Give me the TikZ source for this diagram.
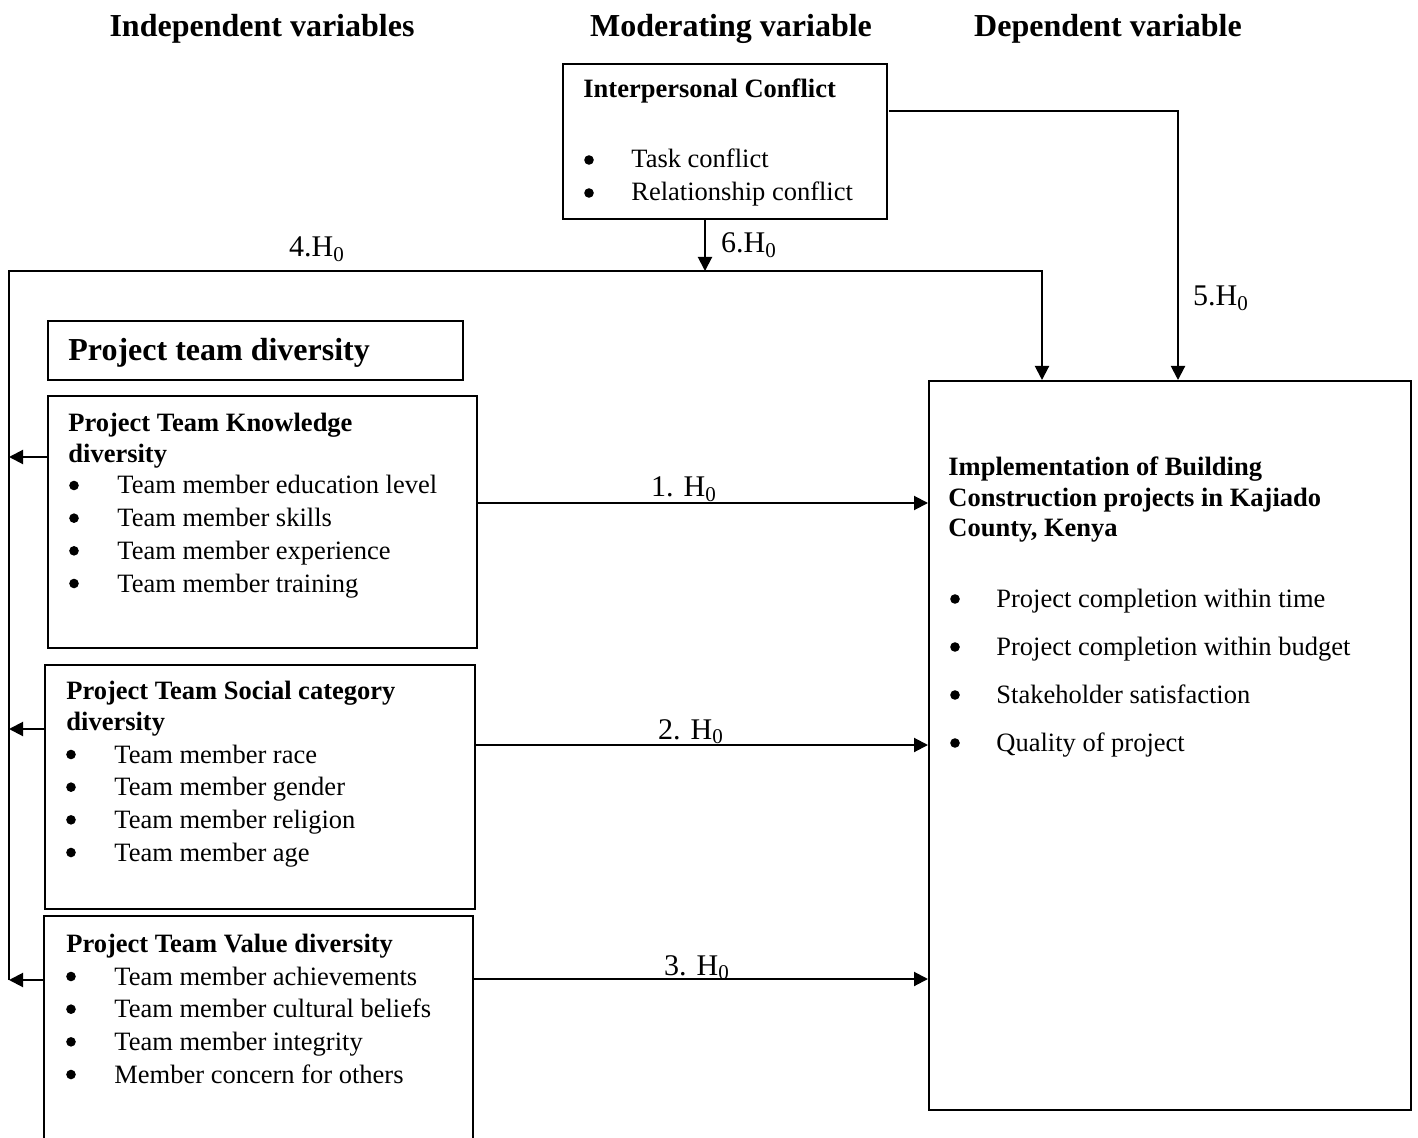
\documentclass[tikz,border=0pt]{standalone}
\usepackage{fontspec}
\setmainfont{Liberation Serif}
\usetikzlibrary{arrows.meta,calc}
\begin{document}
\begin{tikzpicture}[x=0.5pt,y=-0.5pt,
  box/.style={draw, line width=1.1pt, inner sep=0pt, anchor=north west},
  txt/.style={inner sep=0pt, anchor=base west, font=\fontsize{13.25}{16}\selectfont},
  btxt/.style={inner sep=0pt, anchor=base west, font=\fontsize{13.25}{16}\selectfont\bfseries},
  hdr/.style={inner sep=0pt, anchor=base, font=\fontsize{16}{19}\selectfont\bfseries},
  lbl/.style={inner sep=0pt, anchor=base, font=\fontsize{15}{18}\selectfont},
  dot/.style={circle, fill, inner sep=0pt, minimum size=4.8pt},
  conn/.style={line width=1pt},
  arr/.style={conn, -{Triangle[length=7pt,width=7pt]}},
]
\useasboundingbox (0,0) rectangle (1418,1138);

% boxes
\node[box, minimum width=162pt, minimum height=77.5pt] (mod) at (562,63) {};
\node[box, minimum width=207.5pt, minimum height=29.5pt] (ptd) at (47,320) {};
\node[box, minimum width=214.5pt, minimum height=126pt] (know) at (47,395) {};
\node[box, minimum width=215pt, minimum height=122pt] (soc) at (44,664) {};
\node[box, draw=none, minimum width=213.5pt, minimum height=113pt] (val) at (44,916) {};
\draw[line width=1.1pt] (val.south west) -- (val.north west) -- (val.north east) -- (val.south east);
\node[box, minimum width=241pt, minimum height=364.5pt] (dep) at (928,380) {};

% headers
\node[hdr] (h1) at (262,37) {Independent variables};
\node[hdr] (h2) at (731,37) {Moderating variable};
\node[hdr] (h3) at (1108,37) {Dependent variable};

% moderator
\node[btxt] (modt) at (583,98) {Interpersonal Conflict};
\foreach \t [count=\i] in {Task conflict, Relationship conflict} {
  \node[dot] (mb\i) at (589,{160+33*(\i-1)}) {};
  \node[txt] (mt\i) at (631,{168+33*(\i-1)}) {\t};
}

% project team diversity
\node[inner sep=0pt, anchor=base west, font=\fontsize{16}{19}\selectfont\bfseries] (ptdt) at (68,361) {Project team diversity};

% knowledge
\node[btxt] (kt1) at (68,432) {Project Team Knowledge};
\node[btxt] (kt2) at (68,463) {diversity};
\foreach \t [count=\i] in {Team member education level, Team member skills, Team member experience, Team member training} {
  \node[dot] (kb\i) at (74,{485.5+32.67*(\i-1)}) {};
  \node[txt] (kx\i) at (117,{494+32.67*(\i-1)}) {\t};
}

% social
\node[btxt] (st1) at (66,699) {Project Team Social category};
\node[btxt] (st2) at (66,730) {diversity};
\foreach \t [count=\i] in {Team member race, Team member gender, Team member religion, Team member age} {
  \node[dot] (sb\i) at (71,{754.5+32.67*(\i-1)}) {};
  \node[txt] (sx\i) at (114,{763+32.67*(\i-1)}) {\t};
}

% value
\node[btxt] (vt1) at (66,952) {Project Team Value diversity};
\foreach \t [count=\i] in {Team member achievements, Team member cultural beliefs, Team member integrity, Member concern for others} {
  \node[dot] (vb\i) at (71,{976.5+32.67*(\i-1)}) {};
  \node[txt] (vx\i) at (114,{985+32.67*(\i-1)}) {\t};
}

% dependent
\node[btxt] (dt1) at (948,476) {Implementation of Building};
\node[btxt] (dt2) at (948,507) {Construction projects in Kajiado};
\node[btxt] (dt3) at (948,537) {County, Kenya};
\foreach \t [count=\i] in {Project completion within time, Project completion within budget, Stakeholder satisfaction, Quality of project} {
  \node[dot] (db\i) at (955,{599+48*(\i-1)}) {};
  \node[txt] (dx\i) at (996,{607+48*(\i-1)}) {\t};
}

% labels
\node[lbl] (l1) at (684,497) {1. H\textsubscript{0}};
\node[lbl] (l2) at (691,739) {2. H\textsubscript{0}};
\node[lbl] (l3) at (697,975) {3. H\textsubscript{0}};
\node[lbl] (l4) at (317,257) {4.H\textsubscript{0}};
\node[lbl] (l5) at (1221,306) {5.H\textsubscript{0}};
\node[lbl] (l6) at (749,253) {6.H\textsubscript{0}};

% coordinates
\coordinate (lt) at (9,271);
\coordinate (lb) at (9,980);
\coordinate (c4) at (1042,271);
\coordinate (j6) at (705,271);
\coordinate (s5) at (889,111);
\coordinate (c5) at (1178,111);
\coordinate (y1) at (0,457);
\coordinate (y2) at (0,729);
\coordinate (y3) at (0,980);
\coordinate (a1) at (0,503);
\coordinate (a2) at (0,745);
\coordinate (a3) at (0,979);

% connectors
\draw[arr] (lb) -- (lt) -- (c4) -- (dep.north -| c4);
\draw[arr] (mod.south -| j6) -- (j6);
\draw[arr] (s5) -- (c5) -- (dep.north -| c5);
\draw[arr] (know.west |- y1) -- (lt |- y1);
\draw[arr] (soc.west |- y2) -- (lt |- y2);
\draw[arr] (val.west |- y3) -- (lt |- y3);
\draw[arr] (know.east |- a1) -- (dep.west |- a1);
\draw[arr] (soc.east |- a2) -- (dep.west |- a2);
\draw[arr] (val.east |- a3) -- (dep.west |- a3);
\end{tikzpicture}
\end{document}
